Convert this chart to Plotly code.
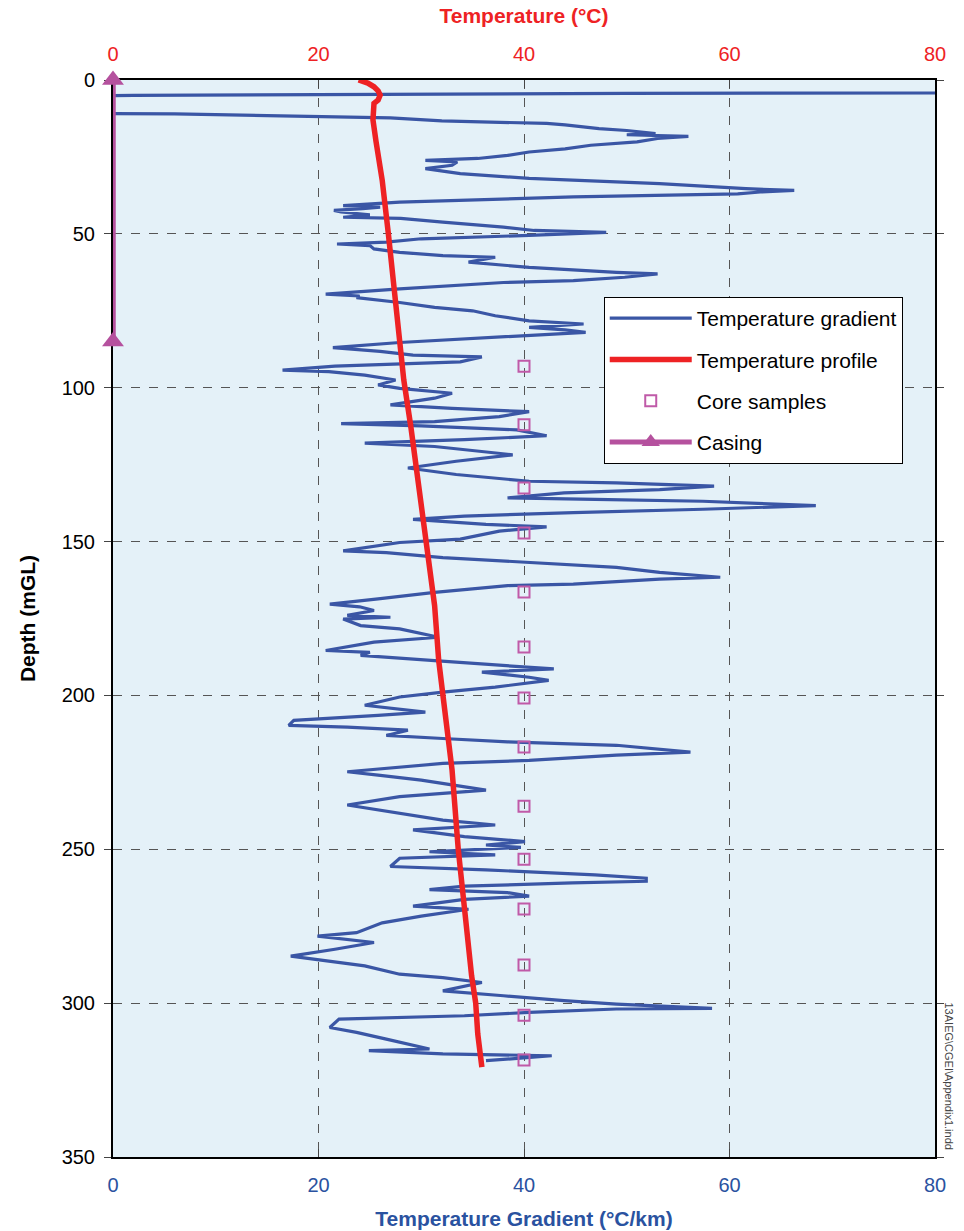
import plotly.graph_objects as go

# ---------------- data ----------------
grad_depth = [3.5, 4.2, 4.35, 4.6, 5.0, 5.2, 10.7, 10.9, 11.0, 11.6, 12.3, 13.3, 14.1, 14.6, 15.8, 16.4, 17.4, 17.8, 18.3,
              19.0, 20.1, 21.2, 22.4, 23.4, 24.5, 25.5, 26.1, 26.6, 27.7, 28.8, 29.5, 30.4, 32.0, 33.7, 35.3, 35.9,
              36.4, 37.0, 38.0, 38.6, 39.7, 40.8, 41.3, 41.8, 42.4, 42.9, 43.8, 44.6, 45.0, 46.2, 47.8, 48.9,
              49.5, 50.5, 51.6, 52.7, 53.3, 53.8, 54.9, 56.0, 57.1, 57.6, 59.2, 60.9, 62.0, 62.5, 63.0, 64.1,
              65.2, 65.8, 67.9, 69.6, 70.2, 70.7, 72.3, 73.9, 75.0, 76.6, 78.3, 79.3, 80.4, 81.2, 82.0, 83.7,
              85.3, 87.0, 88.2, 89.4, 90.0, 91.6, 92.1, 93.0, 94.3, 94.8, 95.9, 97.5, 99.1, 100.2, 101.8,
              103.4, 105.6, 106.7, 107.8, 109.4, 111.0, 111.7, 112.4, 113.7, 115.6, 116.9, 118.0, 119.1, 121.8,
              123.9, 126.1, 128.2, 130.4, 130.9, 132.0, 133.1, 134.2, 135.8, 136.3, 136.9, 138.3, 139.5, 140.6,
              141.7, 142.8, 144.4, 145.2, 146.6, 149.2, 150.3, 153.0, 153.6, 155.2, 156.8, 158.4, 160.0, 161.6,
              162.2, 163.8, 164.3, 166.5, 168.6, 170.3, 171.2, 172.4, 174.0, 174.6, 175.2, 177.3, 178.4, 180.0,
              181.1, 182.7, 185.4, 186.0, 187.0, 188.7, 190.3, 191.4, 192.4, 194.1, 195.1, 197.3, 198.9, 200.5,
              203.2, 205.4, 206.5, 208.1, 209.7, 210.3, 211.3, 213.0, 214.0, 215.1, 216.2, 218.4, 219.4, 221.1,
              222.1, 224.8, 225.9, 227.5, 230.8, 232.9, 235.6, 237.8, 240.5, 242.1, 243.7, 245.9, 247.5, 248.6,
              249.4, 250.8, 251.8, 252.9, 255.6, 256.7, 258.3, 259.4, 260.4, 260.9, 262.0, 263.1, 264.1, 265.2,
              266.3, 268.5, 269.5, 271.7, 273.9, 277.1, 278.2, 280.3, 282.5, 284.7, 285.7, 287.9, 290.6, 291.7,
              293.3, 296.0, 297.6, 299.2, 300.3, 301.7, 301.9, 303.0, 304.1, 305.2, 307.9, 309.5, 311.7, 314.9,
              315.4, 316.5, 317.1, 318.7]
grad_value = [95, 85, 50, 20, 2, -5, -5, 0, 6, 15, 27, 32, 42.2, 44, 47.3, 50, 52.8, 50, 56,
              53, 51, 46.5, 44, 40.5, 38.4, 35.5, 30.4, 33.5, 33, 30.4, 32, 33.8, 40.5, 53.2, 61.6, 66.3,
              63, 60.8, 44.8, 38.9, 27.9, 22.4, 26, 24.3, 21.5, 22.2, 25, 22.4, 28, 32.1, 38, 41,
              48, 40.5, 30, 26.6, 21.8, 25, 25.4, 27.9, 32.1, 37.2, 34.6, 40.5, 45.6, 49, 53, 49.8,
              44.8, 38, 27.9, 20.7, 24, 23.7, 27.9, 31.3, 35, 37.2, 40.5, 45.8, 40.5, 44, 46, 36.3,
              27.9, 21.4, 26, 29.2, 35.9, 33.8, 29.2, 21.6, 16.5, 21, 24.5, 27.5, 25.8, 27.9, 33,
              31.3, 27, 33, 40.5, 37.6, 31.3, 22.2, 30, 39.3, 42.2, 34.2, 24.5, 31.3, 38.9,
              33.4, 28.7, 33.4, 40.5, 49, 58.5, 53.2, 43.9, 38.4, 46.9, 57.4, 68.4, 57.4, 44.8,
              34.2, 29.2, 36.3, 42.2, 37.6, 33.8, 27.9, 22.4, 26.6, 32.1, 40.5, 49, 53.2, 59.1,
              53.2, 44.8, 38.4, 31.3, 25.8, 21.1, 24, 25.4, 22.8, 27, 22.4, 24.1, 27.9, 30,
              31.7, 25.4, 20.7, 25, 24.1, 31.3, 38.9, 42.9, 35.9, 40.5, 42.4, 37.2, 32.1, 27.9,
              24.5, 30.4, 25.8, 17.6, 17.1, 22.8, 28.7, 26.6, 32.1, 38.4, 49, 56.2, 49, 40.5,
              32.1, 22.8, 25.8, 30, 36.3, 27.9, 22.8, 27, 32.1, 37.2, 29.2, 34.2, 40.1, 36.3,
              39.7, 30.8, 37.2, 27.9, 27, 36.3, 46.9, 51.9, 51.9, 44.7, 34.2, 30.8, 38.4, 40.5,
              34.2, 29.2, 34.6, 30, 26.2, 23.7, 19.9, 25.4, 21.6, 17.3, 19.4, 24.5, 27.9, 32.1,
              35.9, 32.1, 38, 43.9, 49, 58.3, 49, 40.5, 34.2, 22, 21.1, 23.7, 26.6, 30.8,
              24.9, 32.1, 42.7, 36.3]

temp_depth = [0, 1.0, 2.2, 3.5, 4.9, 6.5, 7.6, 13.0, 20.0, 32.6, 50.0, 65.0, 82.6, 97.5, 113.0, 128.8,
              150.0, 170.8, 188.7, 200.0, 224.3, 250.0, 269.5, 291.1, 300.0, 310.0, 320.8]
temp_value = [23.9, 24.8, 25.4, 25.8, 26.0, 25.8, 25.4, 25.3, 25.6, 26.2, 26.8, 27.3, 27.9, 28.3, 29.0, 29.6,
              30.4, 31.3, 31.7, 32.1, 33.0, 33.6, 34.2, 34.9, 35.3, 35.5, 35.9]

core_depth = [93.0, 112.0, 132.6, 147.2, 166.4, 184.3, 200.8, 216.8, 236.0, 253.2, 269.4, 287.6, 303.9, 318.5]
core_value = [40] * len(core_depth)

casing_depth = [0, 85]
casing_value = [0, 0]

x_ticks = [0, 20, 40, 60, 80]
y_ticks = [0, 50, 100, 150, 200, 250, 300, 350]

# ---------------- styles ----------------
BLUE = "#3a56a5"
RED = "#ee2224"
MAG = "#b5519e"
FONT = "Liberation Sans, Arial, sans-serif"

fig = go.Figure()
fig.add_trace(go.Scatter(x=grad_value, y=grad_depth, mode="lines", name="Temperature gradient",
                         line=dict(color=BLUE, width=3.2), legendgroup="a", xaxis="x", yaxis="y"))
fig.add_trace(go.Scatter(x=temp_value, y=temp_depth, mode="lines", name="Temperature profile",
                         line=dict(color=RED, width=5.5), legendgroup="b", xaxis="x2", yaxis="y"))
fig.add_trace(go.Scatter(x=core_value, y=core_depth, mode="markers", name="Core samples",
                         marker=dict(symbol="square-open", size=11, color="#c05aa8", line=dict(width=2)),
                         legendgroup="c", xaxis="x", yaxis="y"))
# casing body drawn as an unclipped error bar (so it is not cut in half by the plot edge)
fig.add_trace(go.Scatter(x=[casing_value[0]], y=[casing_depth[0]], mode="markers",
                         marker=dict(size=1, opacity=0), showlegend=False, hoverinfo="skip",
                         cliponaxis=False,
                         error_y=dict(type="data", symmetric=False,
                                      array=[casing_depth[1] - casing_depth[0]], arrayminus=[0],
                                      thickness=5, width=0, color=MAG),
                         xaxis="x", yaxis="y"))
fig.add_trace(go.Scatter(x=casing_value, y=casing_depth, mode="lines+markers", name="Casing",
                         line=dict(color=MAG, width=5),
                         marker=dict(symbol="triangle-up", size=19, color=MAG),
                         legendgroup="d", cliponaxis=False, xaxis="x", yaxis="y"))

fig.update_layout(
    width=964, height=1231,
    margin=dict(l=113, r=29, t=80, b=74),
    paper_bgcolor="white",
    plot_bgcolor="#e4f1f8",
    font=dict(family=FONT, size=19, color="black"),
    showlegend=True,
    legend=dict(x=0.597, y=0.7985, xanchor="left", yanchor="top",
                bgcolor="white", bordercolor="black", borderwidth=1,
                font=dict(size=21, family=FONT), tracegroupgap=11,
                itemwidth=82),
    xaxis=dict(range=[0, 80], tickvals=x_ticks, ticks="inside", ticklen=8, tickcolor="#444",
               tickfont=dict(color="#2a52a0", size=20), ticklabelstandoff=9,
               showline=True, linecolor="black", linewidth=2, layer="below traces",
               showgrid=True, gridcolor="#555", griddash="dash", gridwidth=1, zeroline=False,
               title=dict(text="<b>Temperature Gradient (°C/km)</b>", font=dict(color="#2a52a0", size=21),
                          standoff=16),
               automargin=False),
    xaxis2=dict(range=[0, 80], tickvals=x_ticks, overlaying="x", side="top", ticks="inside", ticklen=8,
                tickcolor="#444", tickfont=dict(color=RED, size=20), ticklabelstandoff=9,
                showline=True, linecolor="black", layer="below traces",
                linewidth=2, showgrid=False, zeroline=False,
                title=dict(text="<b>Temperature (°C)</b>", font=dict(color=RED, size=21), standoff=14),
                automargin=False),
    yaxis=dict(range=[350, 0], tickvals=y_ticks, ticks="outside", ticklen=7, tickcolor="#444",
               tickfont=dict(size=20), ticklabelstandoff=5, layer="below traces",
               showline=True, linecolor="black", linewidth=2, mirror="ticks",
               showgrid=True, gridcolor="#555", griddash="dash", gridwidth=1, zeroline=False,
               title=dict(text="<b>Depth (mGL)</b>", font=dict(size=21), standoff=20),
               automargin=False),
    annotations=[dict(text="13AIEG\\CGEI\\Appendix1.indd", xref="paper", yref="paper",
                      x=1.0, y=0.0, xanchor="left", yanchor="bottom", xshift=6, yshift=6,
                      textangle=90, showarrow=False, font=dict(size=11, color="#444", family=FONT))],
)

fig.write_html("out.html")
